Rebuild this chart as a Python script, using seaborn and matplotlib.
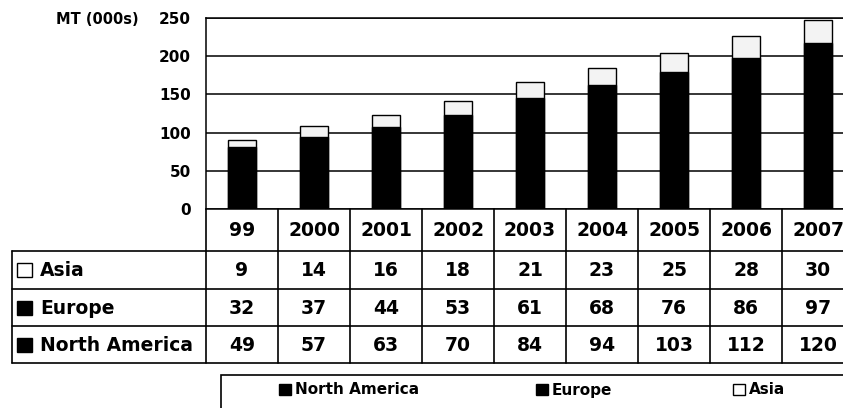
import matplotlib
matplotlib.use("Agg")
import matplotlib.pyplot as plt
from matplotlib.patches import Rectangle
from matplotlib.lines import Line2D
import seaborn as sns
import pandas as pd
import numpy as np

# ---- data ----
years = ["99", "2000", "2001", "2002", "2003", "2004", "2005", "2006", "2007"]
asia = [9, 14, 16, 18, 21, 23, 25, 28, 30]
europe = [32, 37, 44, 53, 61, 68, 76, 86, 97]
north_america = [49, 57, 63, 70, 84, 94, 103, 112, 120]
y_ticks = [0, 50, 100, 150, 200, 250]
y_label = "MT (000s)"

sns.set_theme(style="white")
plt.rcParams["font.family"] = ["DejaVu Sans"]
plt.rcParams["font.weight"] = "bold"

W, H = 843, 408
fig = plt.figure(figsize=(W / 100, H / 100), dpi=100)

def fx(p):
    return p / W

def fy(p):
    return 1 - p / H

# column geometry in pixels
col_left, col_w = 206, 72
n = len(years)
right_px = col_left + col_w * n
top_px, zero_px, table_bottom = 18, 209, 363

ax = fig.add_axes([fx(col_left), fy(zero_px), (right_px - col_left) / W, (zero_px - top_px) / H])

df = pd.DataFrame({"year": years, "Asia": asia, "Europe": europe, "North America": north_america})
df["total"] = df["North America"] + df["Europe"] + df["Asia"]
df["na_eu"] = df["North America"] + df["Europe"]

bw = 0.40
sns.barplot(data=df, x="year", y="total", order=years, color="#f3f3f3", edgecolor="black",
            linewidth=1.0, width=bw, ax=ax, saturation=1)
sns.barplot(data=df, x="year", y="na_eu", order=years, color="black", edgecolor="black",
            linewidth=1.0, width=bw, ax=ax, saturation=1)
sns.barplot(data=df, x="year", y="North America", order=years, color="black", edgecolor="none",
            linewidth=0, width=bw, ax=ax, saturation=1)

ax.set_xlim(-0.5, n - 0.5)
ax.set_ylim(0, 250)
ax.set_yticks(y_ticks)
ax.set_yticklabels([str(t) for t in y_ticks], fontsize=11, fontweight="bold", color="black")
ax.tick_params(axis="y", length=0, pad=11)
ax.set_xticks([])
ax.set_xlabel("")
ax.set_ylabel("")
ax.yaxis.grid(True, color="black", linewidth=1.1)
ax.set_axisbelow(True)
for s in ["left", "bottom", "top"]:
    ax.spines[s].set_visible(True)
    ax.spines[s].set_color("black")
    ax.spines[s].set_linewidth(1.1)
ax.spines["right"].set_visible(False)

fig.text(fx(139), fy(20), y_label, ha="right", va="center", fontsize=10.5, fontweight="bold", color="black")

# ---- data table ----
axt = fig.add_axes([fx(col_left), fy(table_bottom), (right_px - col_left) / W, (table_bottom - zero_px) / H])
axt.set_xlim(-0.5, n - 0.5)
row_edges = [0, 42, 80, 117, 154]
axt.set_ylim(row_edges[-1], 0)
axt.axis("off")

lw = 1.2
x_left = -0.5 - (col_left - 12) / col_w
for i in range(n + 1):
    axt.add_line(Line2D([-0.5 + i, -0.5 + i], [row_edges[0], row_edges[-1]], color="black", lw=lw, clip_on=False))
for e in row_edges[1:]:
    axt.add_line(Line2D([x_left, n - 0.5], [e, e], color="black", lw=lw, clip_on=False))
axt.add_line(Line2D([x_left, x_left], [row_edges[1], row_edges[-1]], color="black", lw=lw, clip_on=False))

fs = 13.5
hdr_c = (row_edges[0] + row_edges[1]) / 2
for i, yv in enumerate(years):
    axt.text(i, hdr_c + 1, yv, ha="center", va="center", fontsize=fs, fontweight="bold", color="black", clip_on=False)

rows = [("Asia", asia, "white"), ("Europe", europe, "black"), ("North America", north_america, "black")]
label_x = -0.5 - (col_left - 40) / col_w
sq_x = -0.5 - (col_left - 17) / col_w
for r, (name, vals, fc) in enumerate(rows):
    c = (row_edges[r + 1] + row_edges[r + 2]) / 2
    for i, v in enumerate(vals):
        axt.text(i, c + 1, str(v), ha="center", va="center", fontsize=fs, fontweight="bold", color="black", clip_on=False)
    axt.text(label_x, c + 1, name, ha="left", va="center", fontsize=fs, fontweight="bold", color="black", clip_on=False)
    axt.add_patch(Rectangle((sq_x, c - 7), 15 / col_w, 14, facecolor=fc, edgecolor="black", lw=1.0, clip_on=False))

# ---- legend box ----
fig.patches.append(Rectangle((fx(221), fy(425)), (900 - 221) / W, (425 - 375) / H, transform=fig.transFigure,
                             facecolor="none", edgecolor="black", lw=1.2, figure=fig))
legend_items = [("North America", "black", 279), ("Europe", "black", 536), ("Asia", "white", 733)]
for name, fc, mx in legend_items:
    fig.patches.append(Rectangle((fx(mx), fy(395)), 12 / W, 11 / H, transform=fig.transFigure,
                                 facecolor=fc, edgecolor="black", lw=1.0, figure=fig))
    fig.text(fx(mx + 16), fy(390), name, ha="left", va="center", fontsize=11, fontweight="bold", color="black")

fig.savefig("out.png", dpi=100)
